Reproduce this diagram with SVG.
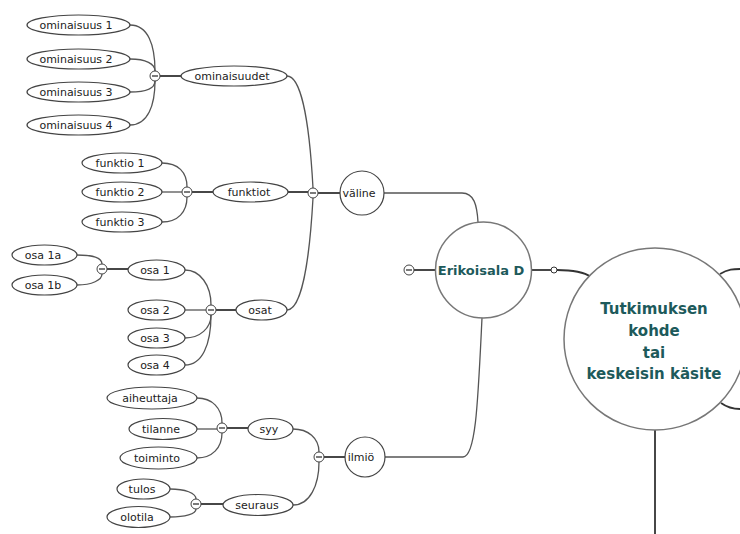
<svg xmlns="http://www.w3.org/2000/svg" width="740" height="534" viewBox="0 0 740 534">
<defs>
<style>
.c{fill:none;stroke:#555;stroke-width:1.3}
.m{fill:none;stroke:#333;stroke-width:1.8}
.e{fill:#fff;stroke:#444;stroke-width:1.2}
.r{fill:#fff;stroke:#777;stroke-width:1.5}
.t{font-family:"DejaVu Sans",sans-serif;font-size:11px;fill:#222;text-anchor:middle}
.b{font-family:"DejaVu Sans",sans-serif;font-weight:bold;fill:#1d5a5b;text-anchor:middle}
.k{fill:#fff;stroke:#444;stroke-width:1}
.k2{stroke:#333;stroke-width:1.3}
</style>
<g id="collapse">
<circle class="k" cx="0" cy="0" r="5"/>
<line class="k2" x1="-3" y1="0" x2="3" y2="0"/>
</g>
</defs>
<rect width="740" height="534" fill="#fff"/>
<g id="connectors">
<path class="c" d="M130,25 C148,25 155,45 155,71"/>
<path class="c" d="M130,59 C146,59 155,64 155,71"/>
<path class="c" d="M130,92 C146,92 155,88 155,81"/>
<path class="c" d="M130,125 C148,125 155,105 155,81"/>
<path class="m" d="M160,76 H181"/>
<path class="c" d="M287,76 C300,76 309,115 313,188"/>
<path class="c" d="M162,163 C178,163 187,172 187,187"/>
<path class="c" d="M162,192 H182"/>
<path class="c" d="M162,222 C178,222 187,212 187,197"/>
<path class="m" d="M192,192 H213"/>
<path class="m" d="M288,192 H308"/>
<path class="m" d="M318,193 H340"/>
<path class="c" d="M77,255 C92,255 102,258 102,264"/>
<path class="c" d="M77,285 C92,285 102,280 102,274"/>
<path class="m" d="M107,269 H128"/>
<path class="c" d="M185,270 C200,270 211,285 211,305"/>
<path class="c" d="M185,310 H206"/>
<path class="c" d="M185,338 C200,338 211,328 211,315"/>
<path class="c" d="M185,365 C202,365 211,345 211,315"/>
<path class="m" d="M216,310 H236"/>
<path class="c" d="M287,310 C300,310 309,270 313,198"/>
<path class="c" d="M197,398 C212,398 222,408 222,423"/>
<path class="c" d="M197,429 H217"/>
<path class="c" d="M197,458 C212,458 222,448 222,433"/>
<path class="m" d="M227,428 H248"/>
<path class="c" d="M293,429 C308,429 319,438 319,452"/>
<path class="c" d="M293,505 C310,505 319,485 319,462"/>
<path class="m" d="M324,457 H345"/>
<path class="c" d="M170,489 C185,489 196,493 196,499"/>
<path class="c" d="M170,517 C185,517 196,514 196,509"/>
<path class="m" d="M201,504 H223"/>
<path class="c" d="M384,193 H462 C474,193 477,205 478,222"/>
<path class="c" d="M385,457 H463 C476,457 478,400 482,318"/>
<path class="m" d="M414,270 H436"/>
<path class="m" d="M531,270 H551"/>
<path class="m" d="M557,270 C575,270 584,272 591,277"/>
<path class="m" d="M655,430 V534"/>
<path class="m" d="M720,274 C728,269 734,269 740,269"/>
<path class="m" d="M721,403 C728,408 734,409 740,409"/>
</g>
<g id="n-ominaisuus1"><ellipse class="e" cx="78.5" cy="25" rx="51.5" ry="10"/><text class="t" x="76" y="29">ominaisuus 1</text></g>
<g id="n-ominaisuus2"><ellipse class="e" cx="78.5" cy="59" rx="51.5" ry="10"/><text class="t" x="76" y="63">ominaisuus 2</text></g>
<g id="n-ominaisuus3"><ellipse class="e" cx="78.5" cy="92" rx="51.5" ry="10"/><text class="t" x="76" y="96">ominaisuus 3</text></g>
<g id="n-ominaisuus4"><ellipse class="e" cx="78.5" cy="125" rx="51.5" ry="10"/><text class="t" x="76" y="129">ominaisuus 4</text></g>
<g id="n-ominaisuudet"><ellipse class="e" cx="234" cy="76" rx="53" ry="10"/><text class="t" x="232" y="80">ominaisuudet</text></g>
<g id="n-funktio1"><ellipse class="e" cx="122" cy="163" rx="40" ry="10"/><text class="t" x="120" y="167">funktio 1</text></g>
<g id="n-funktio2"><ellipse class="e" cx="122" cy="192" rx="40" ry="10"/><text class="t" x="120" y="196">funktio 2</text></g>
<g id="n-funktio3"><ellipse class="e" cx="122" cy="222" rx="40" ry="10"/><text class="t" x="120" y="226">funktio 3</text></g>
<g id="n-funktiot"><ellipse class="e" cx="250.5" cy="192" rx="37.5" ry="10"/><text class="t" x="249" y="196">funktiot</text></g>
<g id="n-valine"><circle class="e" cx="362" cy="193" r="22"/><text class="t" x="359" y="197">väline</text></g>
<g id="n-osa1a"><ellipse class="e" cx="44.5" cy="255" rx="32.5" ry="10"/><text class="t" x="43" y="259">osa 1a</text></g>
<g id="n-osa1b"><ellipse class="e" cx="44.5" cy="285" rx="32.5" ry="10"/><text class="t" x="43" y="289">osa 1b</text></g>
<g id="n-osa1"><ellipse class="e" cx="156.5" cy="270" rx="28.5" ry="10"/><text class="t" x="155" y="274">osa 1</text></g>
<g id="n-osa2"><ellipse class="e" cx="156.5" cy="310" rx="28.5" ry="10"/><text class="t" x="155" y="314">osa 2</text></g>
<g id="n-osa3"><ellipse class="e" cx="156.5" cy="338" rx="28.5" ry="10"/><text class="t" x="155" y="342">osa 3</text></g>
<g id="n-osa4"><ellipse class="e" cx="156.5" cy="365" rx="28.5" ry="10"/><text class="t" x="155" y="369">osa 4</text></g>
<g id="n-osat"><ellipse class="e" cx="261.5" cy="310" rx="25.5" ry="10"/><text class="t" x="260" y="314">osat</text></g>
<g id="n-aiheuttaja"><ellipse class="e" cx="152" cy="398" rx="45" ry="11"/><text class="t" x="150" y="402">aiheuttaja</text></g>
<g id="n-tilanne"><ellipse class="e" cx="163" cy="429" rx="34" ry="10.5"/><text class="t" x="161" y="433">tilanne</text></g>
<g id="n-toiminto"><ellipse class="e" cx="158.5" cy="458" rx="38.5" ry="11"/><text class="t" x="157" y="462">toiminto</text></g>
<g id="n-syy"><ellipse class="e" cx="270.5" cy="429" rx="22.5" ry="10.5"/><text class="t" x="269" y="433">syy</text></g>
<g id="n-tulos"><ellipse class="e" cx="143.5" cy="489" rx="26.5" ry="10"/><text class="t" x="142" y="493">tulos</text></g>
<g id="n-olotila"><ellipse class="e" cx="138.5" cy="517" rx="31.5" ry="10.5"/><text class="t" x="137" y="521">olotila</text></g>
<g id="n-seuraus"><ellipse class="e" cx="258" cy="505" rx="35" ry="10.5"/><text class="t" x="257" y="509">seuraus</text></g>
<g id="n-ilmio"><circle class="e" cx="365" cy="457" r="20"/><text class="t" x="361" y="461">ilmiö</text></g>
<g id="n-erikoisala"><circle class="r" cx="483.5" cy="270" r="48"/><text class="b" x="481" y="275" font-size="13">Erikoisala D</text></g>
<g id="n-tutkimuksen"><circle class="r" cx="655" cy="339" r="91"/>
<text class="b" font-size="15"><tspan x="654" y="314">Tutkimuksen</tspan><tspan x="654" y="336">kohde</tspan><tspan x="654" y="358">tai</tspan><tspan x="654" y="379">keskeisin käsite</tspan></text></g>
<g id="collapse-buttons">
<use href="#collapse" x="155" y="76"/>
<use href="#collapse" x="187" y="192"/>
<use href="#collapse" x="313" y="193"/>
<use href="#collapse" x="102" y="269"/>
<use href="#collapse" x="211" y="310"/>
<use href="#collapse" x="222" y="428"/>
<use href="#collapse" x="319" y="457"/>
<use href="#collapse" x="196" y="504"/>
<use href="#collapse" x="409" y="270"/>
<circle cx="554" cy="270" r="3" fill="#fff" stroke="#333" stroke-width="1"/>
</g>
</svg>
